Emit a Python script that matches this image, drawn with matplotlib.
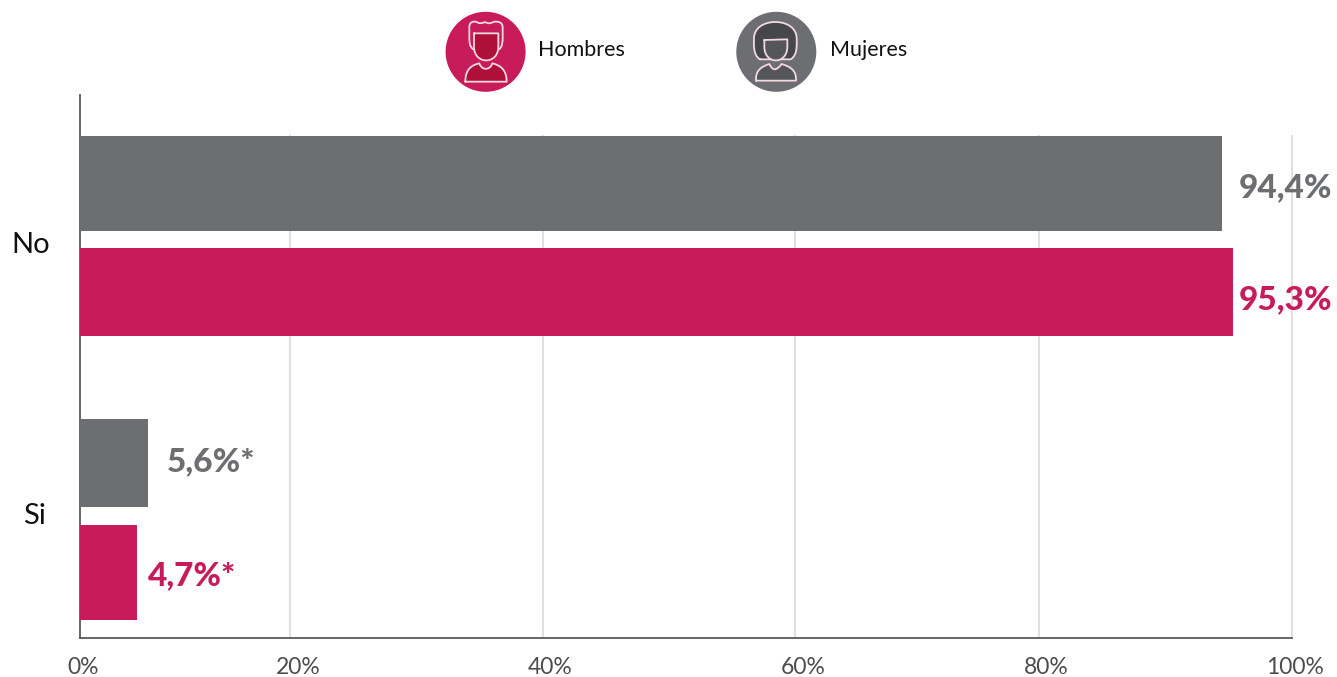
import matplotlib
matplotlib.use("Agg")
import matplotlib.pyplot as plt
from matplotlib.patches import Circle, PathPatch
from matplotlib.path import Path

plt.rcParams['font.family'] = ['Lato', 'DejaVu Sans']

categories = ['No', 'Si']
mujeres = [94.4, 5.6]
hombres = [95.3, 4.7]
mujeres_labels = ['94,4%', '5,6%*']
hombres_labels = ['95,3%', '4,7%*']
tick_labels = ['0%', '20%', '40%', '60%', '80%', '100%']
series_names = ['Hombres', 'Mujeres']

GRAY = '#6D6E71'
RED = '#C81B59'
W, H = 1337, 677
fig = plt.figure(figsize=(W / 100, H / 100), dpi=100)

L, R, T, B = 80, 1292, 95, 638
ax = fig.add_axes([L / W, 1 - B / H, (R - L) / W, (B - T) / H])
PX_PER_UNIT = 12.1
ax.set_xlim(0, (R - L) / PX_PER_UNIT)
ax.set_ylim(638, 95)   # vertical axis runs in pixel rows for band placement

gray_centres = [183.5, 463]
gray_heights = [95, 88]
red_centres = [292, 572.5]
red_heights = [88, 95]

ax.barh(gray_centres, mujeres, height=gray_heights, color=GRAY, zorder=3)
ax.barh(red_centres, hombres, height=red_heights, color=RED, zorder=3)

# drawn gridlines in the source are not evenly spaced and start below the axis top
grid_px = [210, 463, 715, 959, 1212]
ax.vlines([p / PX_PER_UNIT for p in grid_px], 135, 638, color='#DADADA', lw=1.2, zorder=1, clip_on=False)
ax.set_xticks([])
ax.set_yticks([])
for s in ('top', 'right'):
    ax.spines[s].set_visible(False)
for s in ('left', 'bottom'):
    ax.spines[s].set_color('#58595B')
    ax.spines[s].set_linewidth(1.3)

PT = 0.72
gray_gaps = [17, 19]
gray_shift = [-4, 1]
red_gaps = [6, 11]
red_shift = [-8, -3]
for v, t, yc, g, d in zip(mujeres, mujeres_labels, gray_centres, gray_gaps, gray_shift):
    ax.annotate(t, (v, yc), xytext=(g * PT, d * PT), textcoords='offset points',
                color=GRAY, fontsize=24, fontweight=900, va='center', ha='left',
                zorder=5, annotation_clip=False)
for v, t, yc, g, d in zip(hombres, hombres_labels, red_centres, red_gaps, red_shift):
    ax.annotate(t, (v, yc), xytext=(g * PT, d * PT), textcoords='offset points',
                color=RED, fontsize=24, fontweight=900, va='center', ha='left',
                zorder=5, annotation_clip=False)

ov = fig.add_axes([0, 0, 1, 1], zorder=10)
ov.set_xlim(0, W)
ov.set_ylim(H, 0)
ov.axis('off')
ov.patch.set_alpha(0)

tick_centres = [83, 298, 550, 803, 1046, 1295]
for x, t in zip(tick_centres, tick_labels):
    ov.text(x, 667, t, ha='center', va='center', fontsize=16.5, color='#4D4D4F')
for y, t, x in zip([245, 516], categories, [31, 34]):
    ov.text(x, y, t, ha='center', va='center', fontsize=21, color='#111111')

MV, LN, C4 = Path.MOVETO, Path.LINETO, Path.CURVE4
LINE = '#F1D9DF'


def zp(pts):
    return [(430 + x / 3, y / 3) for x, y in pts]


def shape(pts, codes, fc='none', ec=LINE, lw=1.3):
    ov.add_patch(PathPatch(Path(zp(pts), codes), fc=fc, ec=ec, lw=lw,
                           capstyle='round', joinstyle='round'))


# man icon
ov.add_patch(Circle((485.6, 51.8), 40, fc=RED, ec='none'))
DARK_R = '#AE1039'
shape([(130, 148), (118, 140), (118, 125), (118, 110), (118, 80), (118, 68), (128, 62), (140, 66),
       (150, 72), (155, 70), (165, 66), (175, 72), (182, 70), (190, 66), (205, 62), (218, 68), (218, 82),
       (218, 110), (218, 125), (218, 140), (207, 148)],
      [MV, C4, C4, C4, LN, C4, C4, C4, C4, C4, C4, C4, C4, C4, C4, C4, C4, LN, C4, C4, C4])
shape([(132, 100), (132, 140), (132, 195), (205, 195), (205, 140), (205, 100), (132, 100)],
      [MV, LN, C4, C4, C4, LN, LN], fc=DARK_R)
shape([(106, 245), (106, 210), (122, 196), (148, 190), (155, 212), (180, 212), (187, 190),
       (212, 196), (230, 210), (230, 245), (106, 245)],
      [MV, C4, C4, C4, C4, C4, C4, C4, C4, C4, LN], fc=DARK_R)
ov.text(538, 49.5, series_names[0], ha='left', va='center', fontsize=15.5, color='#111111')

# woman icon
ov.add_patch(Circle((776.3, 51.8), 40, fc=GRAY, ec='none'))
DARK_G = '#55565A'
shape([(990, 178), (968, 165), (972, 130), (972, 115), (972, 85), (1000, 66), (1036, 66), (1072, 66), (1100, 85),
       (1100, 115), (1100, 130), (1104, 165), (1082, 178), (990, 178)],
      [MV, C4, C4, C4, C4, C4, C4, C4, C4, C4, C4, C4, C4, LN], fc='#46474B')
shape([(1003, 120), (1003, 140), (1003, 195), (1072, 195), (1072, 140), (1072, 118), (1003, 120)],
      [MV, LN, C4, C4, C4, LN, LN], fc=DARK_G)
shape([(978, 242), (976, 210), (995, 200), (1018, 192), (1028, 212), (1038, 214), (1055, 192),
       (1080, 200), (1100, 210), (1098, 242), (978, 242)],
      [MV, C4, C4, C4, C4, C4, C4, C4, C4, C4, LN], fc=DARK_G)
ov.text(830, 49.5, series_names[1], ha='left', va='center', fontsize=15.5, color='#111111')

fig.savefig('out.png', dpi=100)
